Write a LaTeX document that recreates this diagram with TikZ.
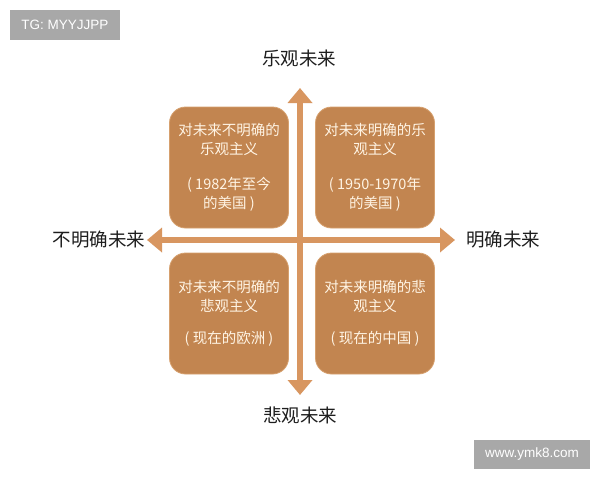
\documentclass[tikz,border=0pt]{standalone}
\usepackage{fontspec}
\newfontfamily\cjk{Noto Sans CJK SC}
\setsansfont{Liberation Sans}
\usetikzlibrary{arrows.meta}
\definecolor{boxfill}{RGB}{194,133,80}
\definecolor{boxedge}{RGB}{214,160,110}
\definecolor{axiscol}{RGB}{216,150,96}
\definecolor{boxtext}{RGB}{255,244,228}
\definecolor{labeltext}{RGB}{30,30,30}
\definecolor{wmgray}{RGB}{168,168,168}
\tikzset{
  quad/.style={draw=boxedge, line width=0.8pt, fill=boxfill, rounded corners=16pt,
    minimum width=119pt, minimum height=121pt, inner sep=0pt, align=center,
    text=boxtext, font=\cjk\fontsize{14.5}{19}\selectfont},
  axislabel/.style={text=labeltext, font=\cjk\fontsize{18.5}{20}\selectfont, inner sep=0pt},
  axis/.style={draw=axiscol, line width=6pt,
    {Triangle[length=15pt,width=24pt]}-{Triangle[length=15pt,width=24pt]}},
  watermark/.style={fill=wmgray, text=white, inner sep=0pt, font=\sffamily\fontsize{13.5}{15}\selectfont}
}
\begin{document}
\begin{tikzpicture}[x=1pt,y=-1pt]
\useasboundingbox (0,0) rectangle (600,480);
\fill[white] (0,0) rectangle (600,480);
% watermarks
\node[watermark, minimum width=110pt, minimum height=30pt] (wm1) at (65,25) {TG: MYYJJPP};
\node[watermark, minimum width=116pt, minimum height=29pt] (wm2) at (532,454.5) {www.ymk8.com};
% axes coordinates
\coordinate (top) at (300,88);
\coordinate (bottom) at (300,395);
\coordinate (left) at (147,240);
\coordinate (right) at (455,240);
% boxes
\node[quad] (tl) at (229,167.5) {对未来不明确的\\乐观主义\\[16pt]( 1982年至今\\的美国 )};
\node[quad] (tr) at (375,167.5) {对未来明确的乐\\观主义\\[16pt]( 1950-1970年\\的美国 )};
\node[quad] (bl) at (229,313.5) {对未来不明确的\\悲观主义\\[13pt]( 现在的欧洲 )};
\node[quad] (br) at (375,313.5) {对未来明确的悲\\观主义\\[13pt]( 现在的中国 )};
% axes
\draw[axis] (left) -- (right);
\draw[axis] (top) -- (bottom);
% labels
\node[axislabel] (lt) at (299,58) {乐观未来};
\node[axislabel] (lb) at (300,415) {悲观未来};
\node[axislabel] (ll) at (99,240) {不明确未来};
\node[axislabel] (lr) at (503,240) {明确未来};
\end{tikzpicture}
\end{document}
